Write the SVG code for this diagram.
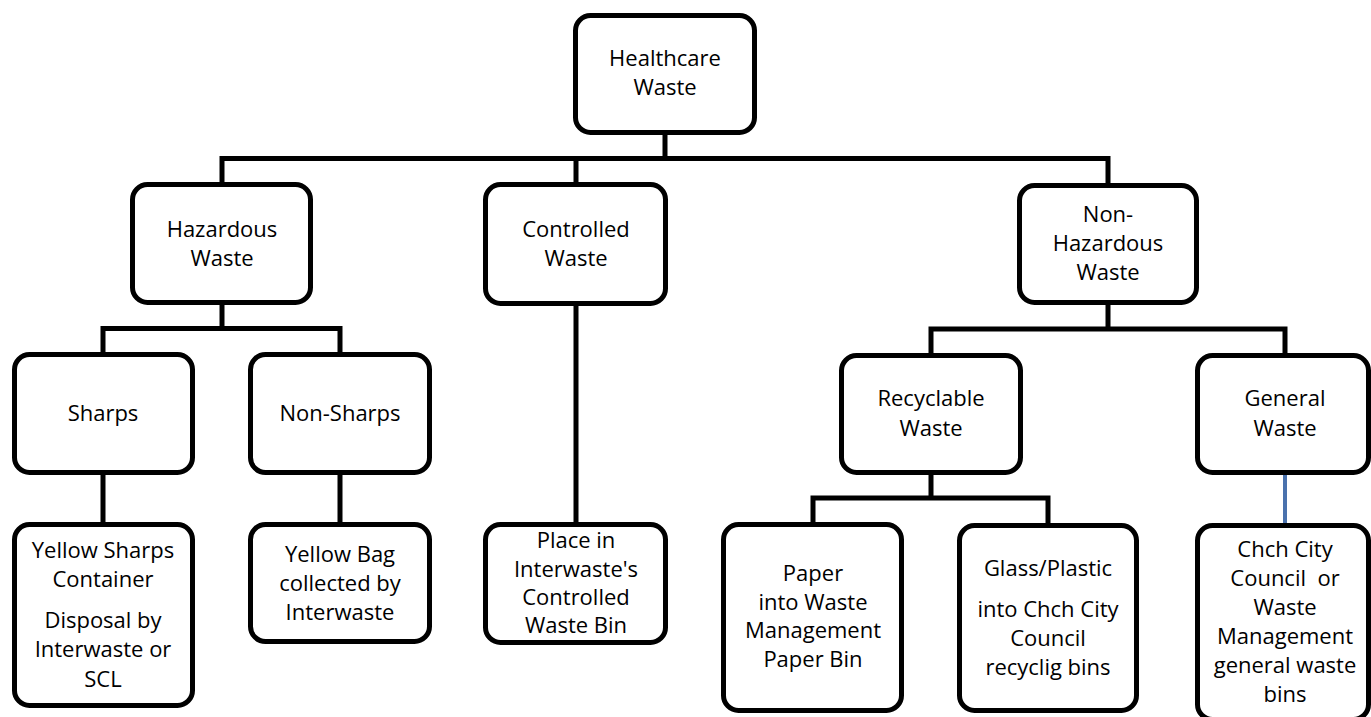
<svg xmlns="http://www.w3.org/2000/svg" width="1371" height="717" viewBox="0 0 1371 717">
<style>
.box{fill:#fff;stroke:#000;stroke-width:5}
.lbl{font-family:"Open Sans","Liberation Sans",sans-serif;font-size:22px;fill:#000;text-anchor:middle}
.con{fill:none;stroke:#000;stroke-width:5;stroke-linecap:square}
.blue{fill:none;stroke:#4a72ad;stroke-width:4}
</style>
<rect width="1371" height="717" fill="#fff"/>
<g id="connectors">
<path class="con" d="M665,135V158.5M222,158.5H1108M222,158.5V184M576,158.5V184M1108,158.5V185"/>
<path class="con" d="M222,305V328.5M103,328.5H340M103,328.5V354M340,328.5V354"/>
<path class="con" d="M103,475V524M340,475V524"/>
<path class="con" d="M576,306V524"/>
<path class="con" d="M1108,305V329M931,329H1285M931,329V355M1285,329V355"/>
<path class="con" d="M931,475V498M813,498H1048M813,498V524M1048,498V525"/>
<path class="blue" d="M1285,474V524"/>
</g>
<g id="healthcare">
<rect class="box" x="575.5" y="15.5" width="179" height="117" rx="15"/>
<text class="lbl" x="665" y="66">Healthcare</text>
<text class="lbl" x="665" y="95">Waste</text>
</g>
<g id="hazardous">
<rect class="box" x="132.5" y="184.5" width="178" height="118" rx="15"/>
<text class="lbl" x="222" y="237">Hazardous</text>
<text class="lbl" x="222" y="266">Waste</text>
</g>
<g id="controlled">
<rect class="box" x="485.5" y="184.5" width="180" height="119" rx="15"/>
<text class="lbl" x="576" y="237">Controlled</text>
<text class="lbl" x="576" y="266">Waste</text>
</g>
<g id="nonhazardous">
<rect class="box" x="1019.5" y="185.5" width="177" height="117" rx="15"/>
<text class="lbl" x="1108" y="222">Non-</text>
<text class="lbl" x="1108" y="251">Hazardous</text>
<text class="lbl" x="1108" y="280">Waste</text>
</g>
<g id="sharps">
<rect class="box" x="14.5" y="354.5" width="178" height="118" rx="15"/>
<text class="lbl" x="103" y="421">Sharps</text>
</g>
<g id="nonsharps">
<rect class="box" x="250.5" y="354.5" width="179" height="118" rx="15"/>
<text class="lbl" x="340" y="421">Non-Sharps</text>
</g>
<g id="recyclable">
<rect class="box" x="841.5" y="355.5" width="179" height="117" rx="15"/>
<text class="lbl" x="931" y="406">Recyclable</text>
<text class="lbl" x="931" y="436">Waste</text>
</g>
<g id="general">
<rect class="box" x="1197.5" y="355.5" width="171" height="117" rx="15"/>
<text class="lbl" x="1285" y="406">General</text>
<text class="lbl" x="1285" y="436">Waste</text>
</g>
<g id="yellowsharps">
<rect class="box" x="14.5" y="524.5" width="178" height="181" rx="15"/>
<text class="lbl" x="103" y="558">Yellow Sharps</text>
<text class="lbl" x="103" y="587">Container</text>
<text class="lbl" x="103" y="628">Disposal by</text>
<text class="lbl" x="103" y="657">Interwaste or</text>
<text class="lbl" x="103" y="687">SCL</text>
</g>
<g id="yellowbag">
<rect class="box" x="250.5" y="524.5" width="179" height="117" rx="15"/>
<text class="lbl" x="340" y="562">Yellow Bag</text>
<text class="lbl" x="340" y="591">collected by</text>
<text class="lbl" x="340" y="620">Interwaste</text>
</g>
<g id="controlledbin">
<rect class="box" x="485.5" y="524.5" width="180" height="118" rx="15"/>
<text class="lbl" x="576" y="548">Place in</text>
<text class="lbl" x="576" y="577">Interwaste's</text>
<text class="lbl" x="576" y="605">Controlled</text>
<text class="lbl" x="576" y="633">Waste Bin</text>
</g>
<g id="paper">
<rect class="box" x="723.5" y="524.5" width="178" height="186" rx="15"/>
<text class="lbl" x="813" y="581">Paper</text>
<text class="lbl" x="813" y="610">into Waste</text>
<text class="lbl" x="813" y="638">Management</text>
<text class="lbl" x="813" y="667">Paper Bin</text>
</g>
<g id="glassplastic">
<rect class="box" x="959.5" y="525.5" width="177" height="185" rx="15"/>
<text class="lbl" x="1048" y="576">Glass/Plastic</text>
<text class="lbl" x="1048" y="617">into Chch City</text>
<text class="lbl" x="1048" y="646">Council</text>
<text class="lbl" x="1048" y="675">recyclig bins</text>
</g>
<g id="generalbins">
<rect class="box" x="1197.5" y="525.5" width="171" height="194" rx="15"/>
<text class="lbl" x="1285" y="557">Chch City</text>
<text class="lbl" x="1285" y="586" xml:space="preserve">Council  or</text>
<text class="lbl" x="1285" y="615">Waste</text>
<text class="lbl" x="1285" y="644">Management</text>
<text class="lbl" x="1285" y="673">general waste</text>
<text class="lbl" x="1285" y="702">bins</text>
</g>
</svg>
